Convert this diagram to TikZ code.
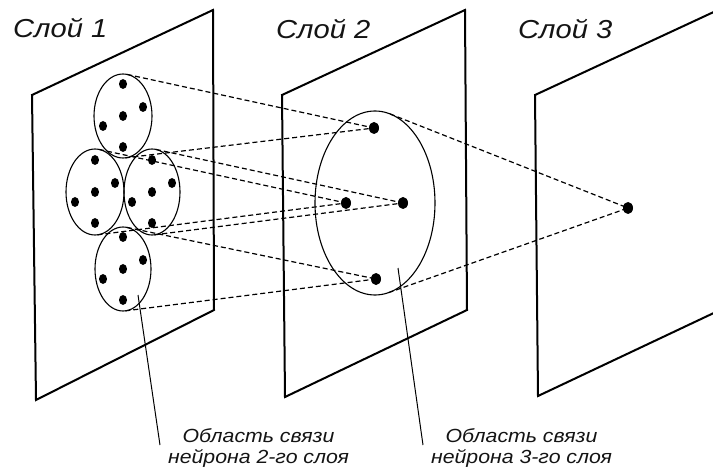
\documentclass[tikz,border=0pt]{standalone}
\usepackage{fontspec}
\newfontfamily\lblfont[FakeStretch=1.12]{Liberation Sans}
\usetikzlibrary{shapes.geometric,calc}
\begin{document}
\begin{tikzpicture}[x=1pt,y=-1pt,
  plane/.style={draw, line width=2pt, line join=miter},
  field/.style={ellipse, draw, line width=1.1pt, inner sep=0pt, outer sep=0pt},
  dot/.style={ellipse, fill, inner sep=0pt, outer sep=0pt, minimum width=8pt, minimum height=10pt},
  bigdot/.style={dot, minimum width=10pt, minimum height=12pt},
  conn/.style={line width=1.2pt, dash pattern=on 5pt off 3pt},
  pointer/.style={line width=1pt},
  title/.style={font=\lblfont\itshape\fontsize{26}{30}\selectfont, anchor=base west, inner sep=0pt, text=black!92},
  lbl/.style={font=\lblfont\itshape\fontsize{19}{21}\selectfont, align=center, anchor=base, inner sep=0pt, text=black!92}
]
\useasboundingbox (0,0) rectangle (713,468);
\clip (0,0) rectangle (713,468);

% planes
\draw[plane] (32,95) -- (213,10) -- (214,310) -- (36,400) -- cycle;
\draw[plane] (282,95) -- (465,10) -- (467,310) -- (285,397) -- cycle;
\draw[plane] (535,95) -- (718,10) -- (718,311) -- (538,396) -- cycle;

% titles
\node[title] (t1) at (13,38) {Слой 1};
\node[title] (t2) at (276,39) {Слой 2};
\node[title] (t3) at (518,39) {Слой 3};

% layer 1 fields
\node[field, minimum width=58pt, minimum height=84pt] (e1) at (123,116) {};
\node[field, minimum width=58pt, minimum height=86pt] (e2) at (95,192) {};
\node[field, minimum width=56pt, minimum height=86pt] (e3) at (152,192) {};
\node[field, minimum width=56pt, minimum height=84pt] (e4) at (123,269) {};

\foreach \e in {e1,e2,e3,e4}{
  \node[dot] (\e a) at ($(\e)+(0,-32)$) {};
  \node[dot] (\e b) at ($(\e)+(20,-9)$) {};
  \node[dot] (\e c) at ($(\e)+(0,0)$) {};
  \node[dot] (\e d) at ($(\e)+(-20,10)$) {};
  \node[dot] (\e e) at ($(\e)+(0,31)$) {};
}

% layer 2
\node[field, minimum width=120pt, minimum height=184pt] (f2) at (375,203) {};
\node[bigdot] (n1) at (374,128) {};
\node[bigdot] (n2) at (346,203) {};
\node[bigdot] (n3) at (403,203) {};
\node[bigdot] (n4) at (376,279) {};

% layer 3
\node[bigdot] (m1) at (628,208) {};

% connections layer 1 -> layer 2
\draw[conn] ($(e1.center)+(81.5:29pt and 42pt)$) -- (n1.center);
\draw[conn] ($(e1.center)+(-85.3:29pt and 42pt)$) -- (n1.center);
\draw[conn] ($(e2.center)+(81.7:29pt and 43pt)$) -- (n2.center);
\draw[conn] ($(e2.center)+(-85.1:29pt and 43pt)$) -- (n2.center);
\draw[conn] ($(e3.center)+(82:28pt and 43pt)$) -- (n3.center);
\draw[conn] ($(e3.center)+(-85.2:28pt and 43pt)$) -- (n3.center);
\draw[conn] ($(e4.center)+(82.1:28pt and 42pt)$) -- (n4.center);
\draw[conn] ($(e4.center)+(-85.2:28pt and 42pt)$) -- (n4.center);

% connections layer 2 -> layer 3
\draw[conn] ($(f2.center)+(75.5:60pt and 92pt)$) -- (m1.center);
\draw[conn] ($(f2.center)+(-77:60pt and 92pt)$) -- (m1.center);

% labels
\node[lbl] (l1) at (258.5,463) {Область связи\\нейрона 2-го слоя};
\node[lbl] (l2) at (521.5,463) {Область связи\\нейрона 3-го слоя};

\coordinate (p1s) at ($(e4)+(15,26)$);
\coordinate (p1e) at (160,445);
\coordinate (p2s) at ($(f2)+(23,65)$);
\coordinate (p2e) at (423,445);
\draw[pointer] (p1s) -- (p1e);
\draw[pointer] (p2s) -- (p2e);
\end{tikzpicture}
\end{document}
